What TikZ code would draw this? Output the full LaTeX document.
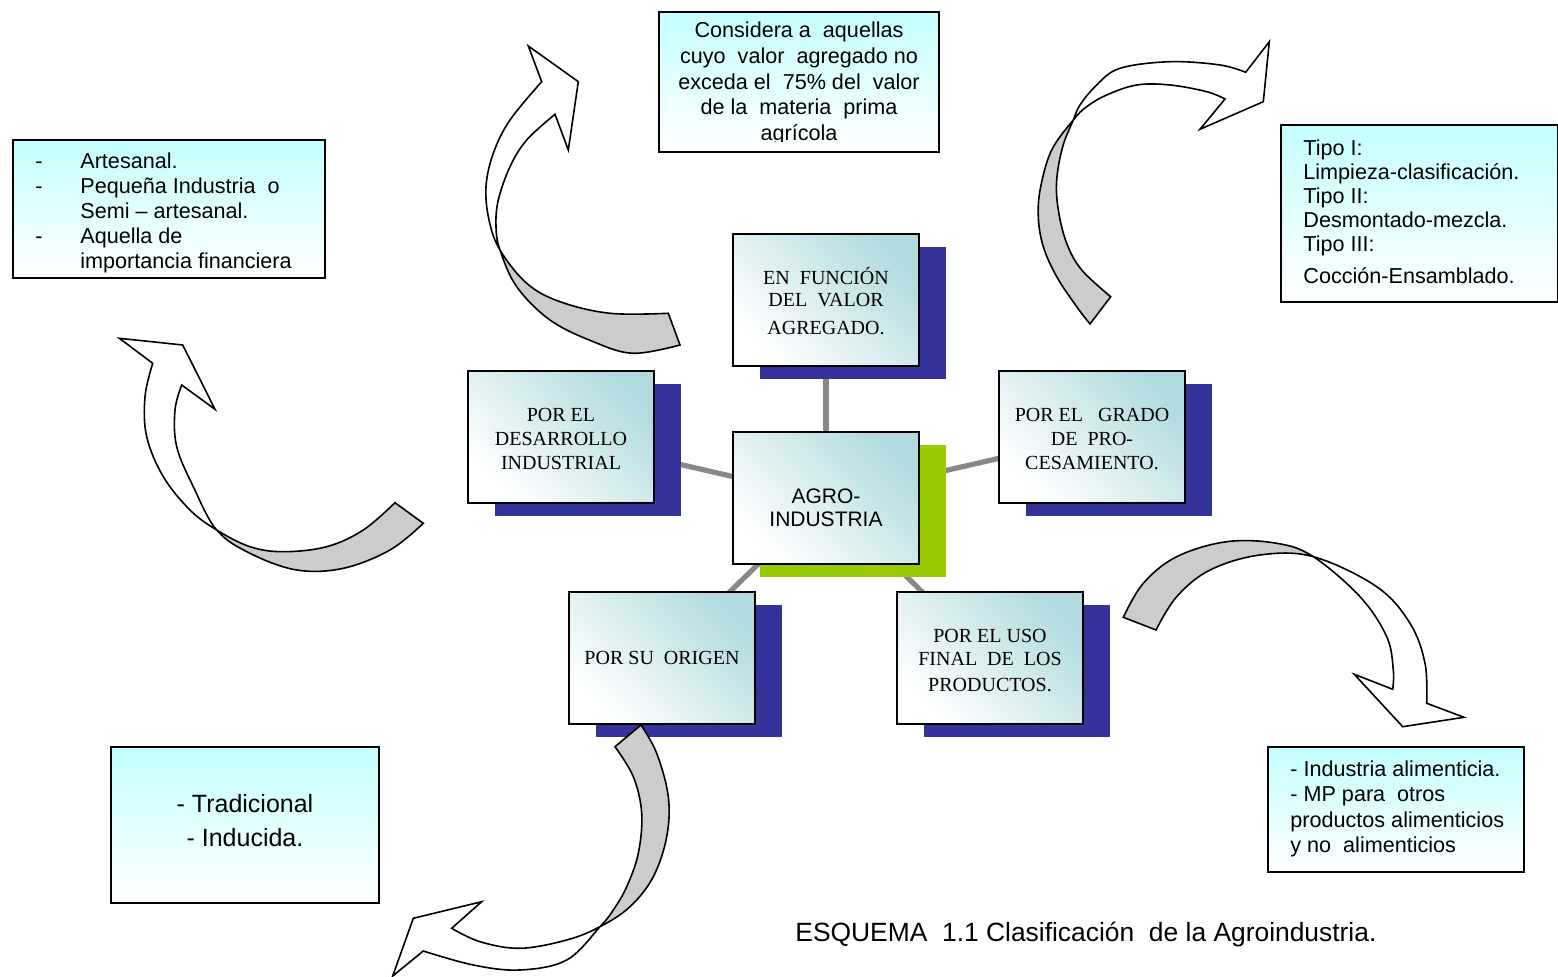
\documentclass[tikz,border=0pt]{standalone}
\usepackage{fontspec}
\setmainfont{Liberation Sans}
\newfontfamily\boxserif{Liberation Serif}
\usetikzlibrary{shadows}

\definecolor{navyshadow}{RGB}{51,51,153}
\definecolor{limeshadow}{RGB}{153,204,0}
\definecolor{tealtint}{RGB}{178,219,223}
\definecolor{cyantint}{RGB}{196,255,255}
\definecolor{linkgray}{RGB}{136,136,136}
\definecolor{bandback}{RGB}{204,204,204}

\pgfdeclarelayer{links}
\pgfsetlayers{links,main}

% a twisted curved band: white front, grey back face on the side of #1
\newcommand{\twistband}[2]{%
  \fill[white] #2;
  \begin{scope}\clip #1; \fill[bandback] #2;\end{scope}
  \draw[bandline] #2;}
% first-line strut of a given height, used to place text inside the boxes
\newcommand{\topline}[1]{\rule{0pt}{#1}}

\begin{document}
\begin{tikzpicture}[x=0.5pt,y=-0.5pt,
  catbox/.style={draw=black, line width=0.9pt, minimum width=93pt, minimum height=66pt,
    inner sep=2pt, align=center, top color=tealtint, middle color=tealtint!45!white,
    bottom color=white, shading angle=-45,
    font=\boxserif\fontsize{10}{12}\selectfont},
  navyback/.style={general shadow={fill=navyshadow, shadow xshift=13.5pt, shadow yshift=-6.5pt}},
  limeback/.style={general shadow={fill=limeshadow, shadow xshift=13.5pt, shadow yshift=-6.5pt}},
  infobox/.style={draw=black, line width=0.8pt, top color=cyantint, bottom color=white, inner sep=0pt},
  infotext/.style={inner sep=0pt, font=\fontsize{10.8}{12.5}\selectfont},
  link/.style={draw=linkgray, line width=2.6pt},
  bandline/.style={draw=black, line width=0.8pt, line join=miter},
  curve/.style={smooth, tension=0.6}]
\useasboundingbox (0,0) rectangle (1558,977);

% ---- classification boxes around the central node
\node[catbox, navyback, font=\boxserif\fontsize{10}{11}\selectfont] (valor) at (826,300)
  {\topline{13.3pt}EN\ \ FUNCIÓN\\ DEL\ \ VALOR\\[3pt] AGREGADO.\strut};
\node[catbox, limeback, font=\fontsize{10.5}{11.7}\selectfont] (agro) at (826,498)
  {\topline{20.4pt}AGRO-\\ INDUSTRIA\strut};
\node[catbox, navyback] (desarrollo) at (561,437)
  {\topline{12.6pt}POR EL\\ DESARROLLO\\ INDUSTRIAL\strut};
\node[catbox, navyback] (grado) at (1092,437)
  {\topline{12.6pt}POR EL\ \ \ GRADO\\ DE\ \ PRO-\\ CESAMIENTO.\strut};
\node[catbox, navyback] (origen) at (662,658)
  {POR SU\ \ ORIGEN};
\node[catbox, navyback, font=\boxserif\fontsize{10}{11.5}\selectfont] (uso) at (990,658)
  {\topline{12.9pt}POR EL USO\\ FINAL\ \ DE\ \ LOS\\[1.5pt] PRODUCTOS.\strut};

\begin{pgfonlayer}{links}
  \draw[link] (agro.center) -- (valor.center);
  \draw[link] (agro.center) -- (desarrollo.center);
  \draw[link] (agro.center) -- (grado.center);
  \draw[link] (agro.center) -- (origen.center);
  \draw[link] (agro.center) -- (uso.center);
\end{pgfonlayer}

% ---- description boxes
\node[infobox, minimum width=156pt, minimum height=69pt] (boxdesarrollo) at (169,209) {};
\node[infotext, anchor=west, align=left] (txtdesarrollo) at (35,213.5)
  {\strut\makebox[22.5pt][l]{-}Artesanal.\\
   \makebox[22.5pt][l]{-}Pequeña Industria\ \ o\\
   \hspace*{22.5pt}Semi – artesanal.\\
   \makebox[22.5pt][l]{-}Aquella de\\
   \hspace*{22.5pt}importancia financiera\strut};

\node[infobox, minimum width=140pt, minimum height=70pt] (boxvalor) at (799,82) {};
\begin{scope}
  \clip (659,12) rectangle (939,142);
  \node[infotext, align=center, font=\fontsize{10.8}{12.8}\selectfont] (txtvalor) at (799,84)
    {\strut Considera a\ \ aquellas\\
     cuyo\ \ valor\ \ agregado no\\
     exceda el\ \ 75\% del\ \ valor\\
     de la\ \ materia\ \ prima\\
     agrícola\strut};
\end{scope}

\node[infobox, minimum width=138.5pt, minimum height=88.5pt] (boxgrado) at (1419.5,213.5) {};
\node[infotext, anchor=west, align=left, font=\fontsize{10.8}{12}\selectfont] (txtgrado) at (1303,214.5)
  {\strut Tipo I:\\
   Limpieza-clasificación.\\
   Tipo II:\\
   Desmontado-mezcla.\\
   Tipo III:\\[3.85pt]
   Cocción-Ensamblado.\strut};

\node[infobox, minimum width=128pt, minimum height=62.5pt] (boxuso) at (1396,809.5) {};
\node[infotext, anchor=west, align=left, font=\fontsize{10.8}{12.7}\selectfont] (txtuso) at (1290,809.5)
  {\strut - Industria alimenticia.\\
   - MP para\ \ otros\\
   productos alimenticios\\
   y no\ \ alimenticios\strut};

\node[infobox, minimum width=134pt, minimum height=78pt] (boxorigen) at (245,825) {};
\node[infotext, align=center, font=\fontsize{12.5}{17}\selectfont] (txtorigen) at (245,823)
  {\strut - Tradicional\\ - Inducida.\strut};

\node[inner sep=0pt, anchor=base west, font=\fontsize{13.2}{15}\selectfont] (caption) at (795,941.5)
  {ESQUEMA\ \ 1.1 Clasificación\ \ de la Agroindustria.};

% ---- curved arrows
% towards the added-value note
\twistband{(1220,-110) -- (-220,610) -- (140,1330) -- (1580,610) -- cycle}
 {plot[curve] coordinates {(541.7,81.7) (510,120) (493.3,153.3) (486,186.7) (489,220) (500,250)
    (526.7,283.3) (560,301.7) (610,313.3) (668.3,313.3)}
  -- plot[curve] coordinates {(680,345) (633.3,353.3) (593.3,341.7) (550,320) (516.7,286.7)
    (500,250) (496,226.7) (498.3,200) (510,166.7) (526.7,140) (555,114.3)}
  -- (568.3,150) -- (578.3,81.7) -- (528.3,46) -- cycle}

% towards the processing-grade note
\twistband{(1793.3,480) -- (353.3,-240) -- (-6.7,480) -- (1433.3,1200) -- cycle}
 {plot[curve] coordinates {(1245.7,72.3) (1220,65) (1170,61.7) (1120,68.3) (1096.7,85) (1080,105)
    (1073.3,120) (1062.7,146.7) (1056.7,180) (1058.3,210) (1066.7,243.3) (1081.7,270) (1110.7,296.7)}
  -- plot[curve] coordinates {(1090,324) (1076.7,306.7) (1056.7,276.7) (1043.3,246.7) (1038.3,216.7)
    (1040.7,186.7) (1051.7,150) (1073.3,120) (1086.7,106.7) (1106.7,95) (1136.7,85) (1170,85)
    (1206.7,91.7) (1225,99)}
  -- (1200,129.3) -- (1263.3,101.7) -- (1269.3,41.7) -- cycle}

% towards the industrial-development note
\twistband{(728.7,-86) -- (-295.3,1146) -- (320.7,1658) -- (1344.7,426) -- cycle}
 {plot[curve] coordinates {(152.7,363.3) (145,396.7) (146.7,436.7) (163.3,476.7) (190,510)
    (216.7,530) (250,546.7) (283.3,551.7) (326.7,546.7) (363.3,530) (395,502.7)}
  -- plot[curve] coordinates {(423.3,523.3) (390,550) (343.3,568.3) (296.7,570) (250,553.3)
    (216.7,530) (193.3,486.7) (176.7,446.7) (175,410) (181.7,385)}
  -- (215,409.3) -- (182.7,345) -- (119.3,338.3) -- cycle}

% towards the final-use note
\twistband{(1651.7,-168.1) -- (974.9,1281.5) -- (250.1,943.1) -- (926.9,-506.5) -- cycle}
 {plot[curve] coordinates {(1426.7,703.3) (1425,663.3) (1410,623.3) (1376.7,586.7) (1313.3,556.7)
    (1260,555) (1210,570) (1176.7,596.7) (1156,630)}
  -- plot[curve] coordinates {(1123.3,617.3) (1143.3,583.3) (1176.7,556.7) (1226.7,541.7)
    (1276.7,543.3) (1313.3,556.7) (1360,596.7) (1386.7,636.7) (1393.3,670) (1392.7,689.3)}
  -- (1354.3,674.3) -- (1402.7,726.7) -- (1464,717.3) -- cycle}

% towards the origin note
\twistband{(1097.6,1553.1) -- (102.4,300.3) -- (728.8,-197.3) -- (1724,1055.5) -- cycle}
 {plot[curve] coordinates {(423.3,951) (473.3,965) (520,970) (566.7,960) (600,926.7) (613.3,910)
    (626.7,886.7) (638.3,853.3) (641.7,813.3) (633.3,776.7) (615,746.7)}
  -- plot[curve] coordinates {(641,725) (656.7,753.3) (668.3,796.7) (666.7,836.7) (653.3,876.7)
    (630,906.7) (600,926.7) (566.7,940) (520,948.3) (480,941.7) (451.7,928.3)}
  -- (481.7,901.7) -- (413.3,918.3) -- (392.7,976) -- cycle}

\end{tikzpicture}
\end{document}
